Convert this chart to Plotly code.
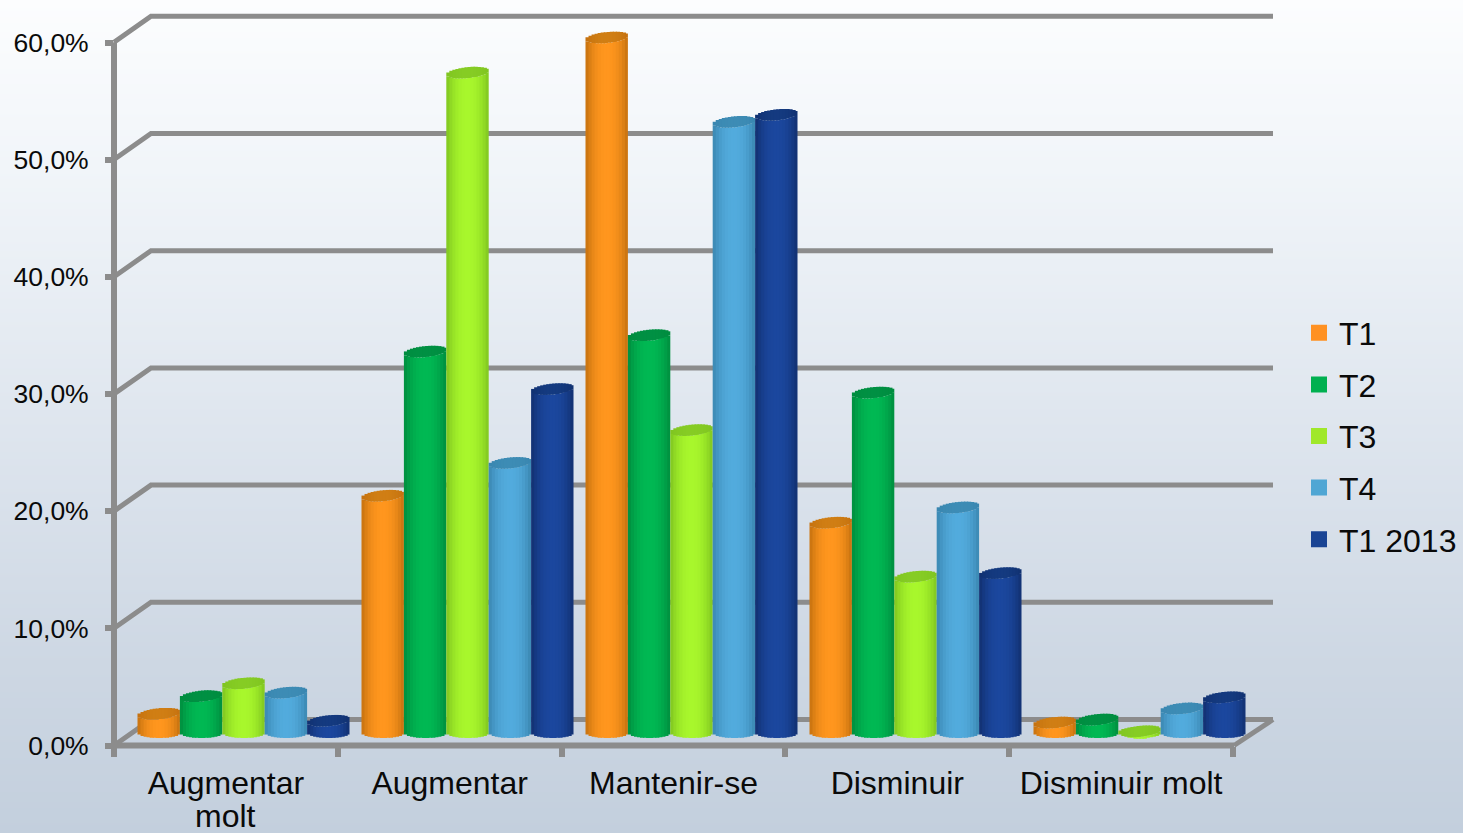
import math
import plotly.graph_objects as go

W, H = 1463, 833
categories = ["Augmentar molt", "Augmentar", "Mantenir-se", "Disminuir", "Disminuir molt"]
category_first_line = ["Augmentar", "Augmentar", "Mantenir-se", "Disminuir", "Disminuir molt"]
category_second_line = ["molt", "", "", "", ""]
series_names = ["T1", "T2", "T3", "T4", "T1 2013"]
t1 = [1.6, 20.2, 59.3, 17.9, 0.85]
t2 = [3.1, 32.5, 33.9, 29.0, 1.1]
t3 = [4.2, 56.3, 25.8, 13.3, 0.1]
t4 = [3.4, 23.0, 52.1, 19.2, 2.05]
t1_2013 = [1.0, 29.3, 52.7, 13.6, 3.0]
series_values = [t1, t2, t3, t4, t1_2013]
y_ticks = [0, 10, 20, 30, 40, 50, 60]
y_tick_labels = ["0,0%", "10,0%", "20,0%", "30,0%", "40,0%", "50,0%", "60,0%"]

center_colors = ["#FF961E", "#00B853", "#A8F72C", "#52ABDD", "#1B479E"]
edge_colors = ["#C4700F", "#008C3E", "#7FC420", "#3A86B0", "#11306F"]
lid_colors = ["#D07E14", "#009043", "#86CC24", "#3D8CB5", "#143A80"]
legend_colors = ["#FF9122", "#00B050", "#A0E82A", "#4FA6D4", "#1A4494"]
bg_stops = ["#FCFDFE", "#F1F5F9", "#E5EBF2", "#D9E1EB", "#CDD7E3", "#C3CFDD"]
GRID = "#8C8C8C"

def hex2rgb(h):
    return [int(h[i:i + 2], 16) for i in (1, 3, 5)]

def mix(a, b, f):
    ca, cb = hex2rgb(a), hex2rgb(b)
    return "rgb(%d,%d,%d)" % tuple(round(x + (y - x) * f) for x, y in zip(ca, cb))

def fx(px):
    return px / W

def fy(py):
    return 1 - py / H

fig = go.Figure()

# page background gradient (range reversed so the first stop is at the top)
n_bg = len(bg_stops)
fig.add_trace(go.Heatmap(
    x=[0, 1], y=[i / (n_bg - 1) for i in range(n_bg)],
    z=[[i / (n_bg - 1)] * 2 for i in range(n_bg)],
    colorscale=[[i / (n_bg - 1), c] for i, c in enumerate(bg_stops)],
    showscale=False, zsmooth="best", hoverinfo="skip", xaxis="x", yaxis="y"))

# back wall, side wall and floor, on an axis pair with the front axes' scale but room for the depth
PX_X = 224.0   # pixels per category band
PX_Y = 11.72   # pixels per percentage point
DEPTH_X = 37 / PX_X
DEPTH_Y = 26 / PX_Y
END_X = 5 + 39 / PX_X
PAD_X = 0.1
PAD_LOW = 2
PAD_HIGH = 1
wx, wy = [], []
for v in y_ticks:
    wx += [0, DEPTH_X, END_X, None]
    wy += [v, v + DEPTH_Y, v + DEPTH_Y, None]
wx += [5, END_X, None]
wy += [0, DEPTH_Y, None]
fig.add_trace(go.Scatter(x=wx, y=wy, mode="lines", line=dict(color=GRID, width=5),
                         cliponaxis=False, showlegend=False, hoverinfo="skip",
                         xaxis="x2", yaxis="y2"))
# front axis lines
fig.add_trace(go.Scatter(x=[0, 0, 5], y=[60, 0, 0], mode="lines", line=dict(color=GRID, width=6),
                         cliponaxis=False, showlegend=False, hoverinfo="skip",
                         xaxis="x2", yaxis="y2"))

# an invisible trace keeps the front axes in place
fig.add_trace(go.Scatter(x=[0, 5], y=[0, 60], mode="markers", marker=dict(opacity=0),
                         showlegend=False, hoverinfo="skip", xaxis="x3", yaxis="y3"))

# cylinders built from narrow bars
BAR = 42.4 / PX_X
STRIPS = 14
E = 5.5 / PX_Y
TILT = 2 / PX_Y
pos = list(range(len(categories)))
for si, vals in enumerate(series_values):
    for k in range(STRIPS):
        u = (k + 0.5) / STRIPS * 2 - 1
        s = math.sqrt(1 - u * u)
        light = 1 - abs(u) ** 2.2
        offset = (si - 2.5) * BAR + k * BAR / STRIPS
        width = BAR / STRIPS * (1.4 if k < STRIPS - 1 else 1)
        fig.add_trace(go.Bar(
            x=pos, y=[max(0, v + TILT * u) for v in vals],
            base=[-E * s] * len(vals), offset=offset, width=width,
            marker=dict(color=mix(edge_colors[si], center_colors[si], light), line_width=0),
            cliponaxis=False, showlegend=False, hoverinfo="skip", xaxis="x4", yaxis="y4"))
        fig.add_trace(go.Bar(
            x=pos, y=[2 * E * s] * len(vals),
            base=[max(0, v + TILT * u) - E * s for v in vals], offset=offset, width=width,
            marker=dict(color=mix(edge_colors[si], lid_colors[si], light), line_width=0),
            cliponaxis=False, showlegend=False, hoverinfo="skip", xaxis="x4", yaxis="y4"))

# legend entries
for name, c in zip(series_names, legend_colors):
    fig.add_trace(go.Scatter(x=[None], y=[None], mode="markers", name=name, legendgroup=name,
                             marker=dict(symbol="square", size=16, color=c),
                             xaxis="x4", yaxis="y4"))

FONT = "Liberation Sans, Arial, sans-serif"
mid = [i + 0.5 for i in range(len(categories))]
annotations = [dict(text=t, x=m, xref="x3", y=fy(816), yref="paper", yanchor="middle",
                    showarrow=False, font=dict(family=FONT, size=32, color="#0A0A0A"))
               for t, m in zip(category_second_line, mid) if t]

Y0 = 732.5
YLOW, YHIGH = -2, 62

fig.update_layout(
    width=W, height=H, autosize=False,
    margin=dict(l=0, r=0, t=0, b=0, pad=0, autoexpand=False),
    paper_bgcolor="#E4EAF1", plot_bgcolor="rgba(0,0,0,0)", barmode="overlay",
    font=dict(family=FONT, color="#0A0A0A"),
    hovermode=False,
    annotations=annotations,
    legend=dict(x=fx(1299), xanchor="left", y=fy(436), yanchor="middle",
                font=dict(family=FONT, size=32, color="#0A0A0A"),
                bgcolor="rgba(0,0,0,0)", itemwidth=30, tracegroupgap=7,
                traceorder="grouped", itemclick=False, itemdoubleclick=False),
    xaxis=dict(domain=[0, 1], range=[0, 1], visible=False, fixedrange=True),
    yaxis=dict(domain=[0, 1], range=[1, 0], visible=False, fixedrange=True),
    xaxis2=dict(domain=[fx(114 - PAD_X * PX_X), fx(114 + (END_X + PAD_X) * PX_X)],
                range=[-PAD_X, END_X + PAD_X], anchor="y2", visible=False, fixedrange=True),
    yaxis2=dict(domain=[fy(745.5 + PAD_LOW * PX_Y), fy(745.5 - (60 + DEPTH_Y + PAD_HIGH) * PX_Y)],
                range=[-PAD_LOW, 60 + DEPTH_Y + PAD_HIGH], anchor="x2", visible=False, fixedrange=True),
    xaxis3=dict(domain=[fx(114), fx(1233)], range=[0, 5], anchor="y3",
                showgrid=False, zeroline=False, showline=False,
                tickmode="array", tickvals=mid, ticktext=category_first_line,
                ticks="outside", ticklen=9, tickcolor="rgba(0,0,0,0)",
                tickfont=dict(family=FONT, size=32, color="#0A0A0A"),
                minor=dict(tickmode="array", tickvals=list(range(6)), ticks="outside",
                           ticklen=10, tickwidth=6, tickcolor=GRID, showgrid=False),
                fixedrange=True),
    yaxis3=dict(domain=[fy(745.5), fy(42.5)], range=[0, 60], anchor="x3",
                showgrid=False, zeroline=False, showline=False,
                tickmode="array", tickvals=y_ticks, ticktext=y_tick_labels,
                ticks="outside", ticklen=8, tickwidth=6, tickcolor=GRID, ticklabelstandoff=11,
                tickfont=dict(family=FONT, size=26.5, color="#0A0A0A"), fixedrange=True),
    xaxis4=dict(domain=[fx(131.5), fx(1251.5)], range=[-0.5, 4.5], anchor="y4",
                visible=False, fixedrange=True),
    yaxis4=dict(domain=[fy(Y0 - YLOW * PX_Y), fy(Y0 - YHIGH * PX_Y)], range=[YLOW, YHIGH], anchor="x4",
                visible=False, fixedrange=True),
)

fig.write_html("out.html", config=dict(displayModeBar=False),
               post_script="document.body.style.margin='0';document.documentElement.style.overflow='hidden';")
